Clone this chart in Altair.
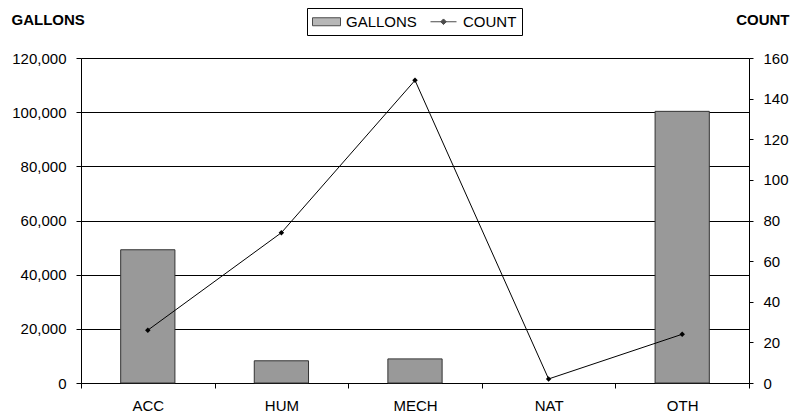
import altair as alt
import pandas as pd

categories = ["ACC", "HUM", "MECH", "NAT", "OTH"]
gallons = [49200, 8200, 8900, 0, 100300]
counts = [26, 74, 149, 2, 24]
series_names = ["GALLONS", "COUNT"]
gallon_ticks = [0, 20000, 40000, 60000, 80000, 100000, 120000]
count_ticks = [0, 20, 40, 60, 80, 100, 120, 140, 160]

df = pd.DataFrame({"cat": categories, "gallons": gallons, "count": counts})
legend_df = pd.DataFrame({"series": series_names})

FONT = "Liberation Sans"

x_enc = alt.X(
    "cat:N",
    sort=categories,
    scale=alt.Scale(domain=categories, paddingInner=0, paddingOuter=0),
    axis=alt.Axis(
        title=None,
        labelAngle=0,
        tickBand="extent",
        tickSize=5,
        labelPadding=10,
        labelFontSize=15,
        labelFont=FONT,
        labelColor="black",
        domainColor="black",
        tickColor="black",
        grid=False,
    ),
)

base = alt.Chart(df)

bars = base.mark_bar(
    fill="#999999", stroke="#333333", strokeWidth=1,
    width=alt.RelativeBandSize(0.406),
).encode(
    x=x_enc,
    y=alt.Y(
        "gallons:Q",
        scale=alt.Scale(domain=[0, 120000], nice=False),
        axis=alt.Axis(
            title="GALLONS",
            titleAngle=0,
            titleX=-70,
            titleY=-34,
            titleAlign="left",
            titleBaseline="alphabetic",
            titleFontSize=15,
            titleFontWeight="bold",
            titleFont=FONT,
            titleColor="black",
            values=gallon_ticks,
            format=",.0f",
            tickSize=5,
            labelPadding=10,
            labelFontSize=15,
            labelFont=FONT,
            labelColor="black",
            domainColor="black",
            tickColor="black",
            grid=True,
            gridColor="black",
            gridWidth=1,
        ),
    ),
).transform_filter("datum.gallons > 0")

line = base.mark_line(
    color="black", strokeWidth=1,
    point=alt.OverlayMarkDef(shape="diamond", filled=True, size=30, color="black"),
).encode(
    x=x_enc,
    y=alt.Y(
        "count:Q",
        scale=alt.Scale(domain=[0, 160], nice=False),
        axis=alt.Axis(
            orient="right",
            title="COUNT",
            titleAngle=0,
            titleX=40,
            titleY=-34,
            titleAlign="right",
            titleBaseline="alphabetic",
            titleFontSize=15,
            titleFontWeight="bold",
            titleFont=FONT,
            titleColor="black",
            values=count_ticks,
            tickSize=4,
            labelPadding=10,
            labelFontSize=15,
            labelFont=FONT,
            labelColor="black",
            domainColor="black",
            tickColor="black",
            grid=False,
        ),
    ),
)

rect_path = "M-1,-0.5H2.5V0.5H-1Z"
line_path = "M-0.875,0H2.375M0.75,-0.35L1.1,0L0.75,0.35L0.4,0Z"

legend_props = dict(
    title=None,
    orient="none",
    legendX=226,
    legendY=-50,
    direction="horizontal",
    strokeColor="black",
    fillColor="white",
    padding=5,
    symbolSize=256,
    symbolStrokeColor="black",
    symbolStrokeWidth=1,
    labelOffset=17,
    columnPadding=11,
    labelFontSize=15,
    labelFont=FONT,
    labelColor="black",
)

legend_layer = alt.Chart(legend_df).mark_point(filled=True).encode(
    color=alt.Color(
        "series:N",
        scale=alt.Scale(domain=series_names, range=["#999999", "black"]),
        legend=alt.Legend(**legend_props),
    ),
    shape=alt.Shape(
        "series:N",
        scale=alt.Scale(domain=series_names, range=[rect_path, line_path]),
        legend=alt.Legend(**legend_props),
    ),
).transform_filter("false")

chart = alt.layer(bars, line, legend_layer).resolve_scale(
    y="independent"
).properties(
    width=668,
    height=325,
    autosize="none",
    padding={"left": 73, "top": 50, "right": 47, "bottom": 31},
).configure_view(stroke=None).configure(font=FONT)

chart.save("out.html", embed_options={"renderer": "svg", "actions": False})
